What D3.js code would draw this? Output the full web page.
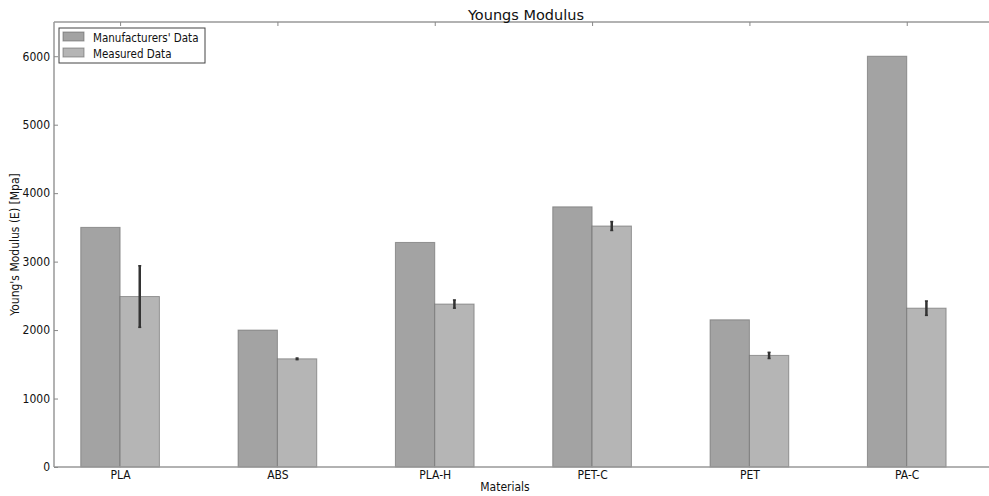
<!DOCTYPE html>
<html>
<head>
<meta charset="UTF-8">
<title>Youngs Modulus</title>
<script src="https://cdn.jsdelivr.net/npm/d3@7/dist/d3.min.js"></script>
<style>
  body { margin: 0; background: #fff; overflow: hidden; }
  svg { font-family: "DejaVu Sans", sans-serif; display: block; }
  .cond { font-family: "DejaVu Sans Condensed", "DejaVu Sans", sans-serif; font-stretch: condensed; }
</style>
</head>
<body>
<div id="chart"></div>
<script>
// data
var materials = ["PLA", "ABS", "PLA-H", "PET-C", "PET", "PA-C"];
var manufacturers = [3500, 2000, 3280, 3800, 2150, 6000];
var measured = [2490, 1580, 2380, 3520, 1630, 2320];
var measuredErr = [450, 12, 60, 65, 45, 105];
var yTicks = [0, 1000, 2000, 3000, 4000, 5000, 6000];
var seriesNames = ["Manufacturers' Data", "Measured Data"];

var width = 989, height = 496;
var margin = { top: 22, left: 54, bottom: 467, right: 998 };
var colors = ["#a3a3a3", "#b5b5b5"];
var barW = 0.25;

var svg = d3.select("#chart").append("svg")
  .attr("width", width)
  .attr("height", height);

var x = d3.scaleLinear()
  .domain([-0.42, 5.58])
  .range([margin.left, margin.right]);

var y = d3.scaleLinear()
  .domain([0, 6500])
  .range([margin.bottom, margin.top]);

// bars
var groups = [manufacturers, measured];
groups.forEach(function(vals, s) {
  svg.append("g")
    .selectAll("rect")
    .data(vals)
    .join("rect")
    .attr("x", function(d, i) { return x(i - barW + s * barW); })
    .attr("width", x(barW) - x(0))
    .attr("y", function(d) { return y(d); })
    .attr("height", function(d) { return y(0) - y(d); })
    .attr("fill", colors[s])
    .attr("stroke", "#666")
    .attr("stroke-opacity", 0.6)
    .attr("stroke-width", 1);
});

// error bars on measured data
var err = svg.append("g")
  .selectAll("g")
  .data(measured)
  .join("g");
err.append("line")
  .attr("x1", function(d, i) { return x(i + barW / 2); })
  .attr("x2", function(d, i) { return x(i + barW / 2); })
  .attr("y1", function(d, i) { return y(d - measuredErr[i]); })
  .attr("y2", function(d, i) { return y(d + measuredErr[i]); })
  .attr("stroke", "#333")
  .attr("stroke-width", 2.5);
[-1, 1].forEach(function(sign) {
  err.append("line")
    .attr("x1", function(d, i) { return x(i + barW / 2) - 1.5; })
    .attr("x2", function(d, i) { return x(i + barW / 2) + 1.5; })
    .attr("y1", function(d, i) { return y(d + sign * measuredErr[i]); })
    .attr("y2", function(d, i) { return y(d + sign * measuredErr[i]); })
    .attr("stroke", "#333")
    .attr("stroke-width", 1.5);
});

// spines: left, top, bottom (the right one is outside the picture)
var spines = svg.append("g")
  .attr("stroke", "#999")
  .attr("stroke-width", 1.5);
spines.append("line")
  .attr("x1", margin.left).attr("x2", margin.left)
  .attr("y1", margin.top).attr("y2", margin.bottom);
spines.append("line")
  .attr("x1", margin.left).attr("x2", width)
  .attr("y1", margin.top).attr("y2", margin.top);
spines.append("line")
  .attr("x1", margin.left).attr("x2", width)
  .attr("y1", margin.bottom).attr("y2", margin.bottom);

// y axis (ticks pointing inward)
var yAxis = d3.axisLeft(y).tickValues(yTicks).tickSize(-4).tickPadding(4)
  .tickFormat(d3.format("d"));
var gy = svg.append("g")
  .attr("transform", "translate(" + margin.left + ",0)")
  .call(yAxis);
gy.select(".domain").remove();
gy.selectAll(".tick line").attr("stroke", "#888");
gy.selectAll("text").attr("font-size", "12px").attr("fill", "#111")
  .attr("class", "cond");

// x axis
var xAxis = d3.axisBottom(x).tickValues(d3.range(materials.length))
  .tickFormat(function(i) { return materials[i]; })
  .tickSize(0).tickPadding(3);
var gx = svg.append("g")
  .attr("transform", "translate(0," + margin.bottom + ")")
  .call(xAxis);
gx.select(".domain").remove();
gx.selectAll("text").attr("font-size", "12px").attr("fill", "#111")
  .attr("class", "cond");
gx.attr("font-family", null);
gy.attr("font-family", null);

// top tick marks
var xTop = d3.axisTop(x).tickValues(d3.range(materials.length))
  .tickSize(-4).tickFormat("");
var gt = svg.append("g")
  .attr("transform", "translate(0," + margin.top + ")")
  .call(xTop);
gt.select(".domain").remove();
gt.selectAll(".tick line").attr("stroke", "#888");

// titles
svg.append("text")
  .attr("x", 526).attr("y", 20)
  .attr("text-anchor", "middle")
  .attr("font-size", "14.5px")
  .attr("fill", "#111")
  .text("Youngs Modulus");

svg.append("text")
  .attr("class", "cond")
  .attr("x", 505).attr("y", 491)
  .attr("text-anchor", "middle")
  .attr("font-size", "12px")
  .attr("fill", "#111")
  .text("Materials");

svg.append("text")
  .attr("class", "cond")
  .attr("transform", "translate(19," + ((margin.top + margin.bottom) / 2) + ") rotate(-90)")
  .attr("text-anchor", "middle")
  .attr("font-size", "12px")
  .attr("fill", "#111")
  .text("Young's Modulus (E) [Mpa]");

// legend
var legend = svg.append("g").attr("transform", "translate(59,28)");
legend.append("rect")
  .attr("width", 146).attr("height", 35)
  .attr("fill", "#fff")
  .attr("stroke", "#444")
  .attr("stroke-width", 1);
var items = legend.selectAll("g.item")
  .data(seriesNames)
  .join("g")
  .attr("class", "item")
  .attr("transform", function(d, i) { return "translate(4," + (4 + i * 16) + ")"; });
items.append("rect")
  .attr("width", 21).attr("height", 9)
  .attr("fill", function(d, i) { return colors[i]; })
  .attr("stroke", "#666")
  .attr("stroke-opacity", 0.6);
items.append("text")
  .attr("class", "cond")
  .attr("x", 30).attr("y", 9.5)
  .attr("font-size", "11.5px")
  .attr("fill", "#111")
  .text(function(d) { return d; });
</script>
</body>
</html>
